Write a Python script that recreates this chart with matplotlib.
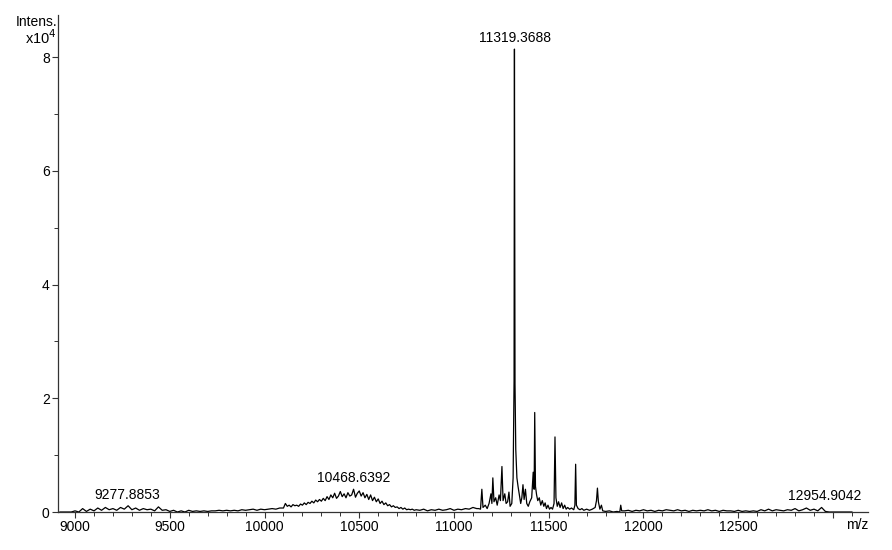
import numpy as np
import matplotlib
matplotlib.use('Agg')
from matplotlib import pyplot as plt
from matplotlib.ticker import MultipleLocator, FuncFormatter

plt.rcParams['font.family'] = ['Liberation Sans', 'DejaVu Sans']

# intensities in units of 1e4
# baseline before the hump, m/z 8920..10080 step 20
lowStart, lowStep = 8920, 20
lowInt = [0.0, 0.0, 0.0, 0.0,
          0.02, 0.0, 0.06, 0.01, 0.05, 0.02, 0.07, 0.03, 0.08, 0.04,
          0.06, 0.03, 0.08, 0.05, 0.11, 0.04, 0.07, 0.03, 0.06, 0.04,
          0.05, 0.02, 0.09, 0.03, 0.04, 0.01, 0.03, 0.0, 0.02, 0.0,
          0.03, 0.01, 0.02, 0.01, 0.02, 0.01, 0.02, 0.02, 0.03, 0.02,
          0.03, 0.02, 0.03, 0.02, 0.04, 0.03, 0.04, 0.05, 0.03, 0.05,
          0.04, 0.05, 0.06, 0.05, 0.07]

# broad hump, m/z 10100..10790 step 10
humpStart, humpStep = 10100, 10
humpInt = [0.07, 0.15, 0.10, 0.12, 0.09, 0.13, 0.11, 0.12, 0.10, 0.14,
           0.12, 0.16, 0.13, 0.17, 0.15, 0.19, 0.16, 0.21, 0.18, 0.22,
           0.19, 0.24, 0.20, 0.27, 0.22, 0.30, 0.25, 0.33, 0.24, 0.28,
           0.36, 0.27, 0.32, 0.25, 0.34, 0.28, 0.30, 0.40, 0.26, 0.33,
           0.37, 0.28, 0.34, 0.25, 0.31, 0.22, 0.30, 0.20, 0.26, 0.18,
           0.23, 0.15, 0.19, 0.13, 0.16, 0.11, 0.13, 0.09, 0.11, 0.08,
           0.09, 0.06, 0.08, 0.05, 0.07, 0.04, 0.05, 0.04, 0.05, 0.03]

# gap between hump and peak cluster, m/z 10800..11120 step 20
gapStart, gapStep = 10800, 20
gapInt = [0.04, 0.03, 0.05, 0.02, 0.04, 0.03, 0.05, 0.03, 0.04, 0.06,
          0.03, 0.05, 0.04, 0.06, 0.05, 0.08, 0.06]

# peak cluster, explicit m/z points
peakMz = [11130, 11140, 11147, 11153, 11165, 11175, 11185, 11195, 11200, 11205,
          11211, 11220, 11228, 11238, 11245, 11253, 11259, 11268, 11275, 11283,
          11290, 11296, 11305, 11312, 11317, 11319, 11322, 11326, 11332, 11338,
          11345, 11352, 11358, 11364, 11370, 11377, 11384, 11392, 11400, 11410,
          11418, 11423, 11426, 11430, 11436, 11442, 11450, 11458, 11466, 11474,
          11481, 11488, 11496, 11504, 11512, 11520, 11528, 11533, 11538, 11545,
          11552, 11560, 11568, 11576, 11584, 11592, 11600, 11610, 11620, 11632,
          11638, 11642, 11646, 11655, 11665, 11675, 11685, 11700, 11715, 11730,
          11745, 11752, 11757, 11762, 11770, 11778, 11785, 11800, 11820, 11840,
          11860, 11875, 11880, 11885]
peakInt = [0.06, 0.05, 0.40, 0.08, 0.12, 0.06, 0.15, 0.32, 0.15, 0.60,
           0.18, 0.25, 0.12, 0.30, 0.20, 0.80, 0.20, 0.32, 0.15, 0.18,
           0.35, 0.10, 0.15, 0.60, 2.30, 8.14, 2.25, 1.10, 0.60, 0.45,
           0.30, 0.15, 0.25, 0.48, 0.22, 0.40, 0.15, 0.10, 0.18, 0.25,
           0.70, 0.40, 1.75, 0.45, 0.30, 0.20, 0.25, 0.12, 0.20, 0.10,
           0.16, 0.06, 0.12, 0.05, 0.08, 0.05, 0.15, 1.32, 0.25, 0.10,
           0.18, 0.08, 0.16, 0.06, 0.12, 0.05, 0.08, 0.05, 0.07, 0.04,
           0.12, 0.84, 0.12, 0.06, 0.04, 0.06, 0.03, 0.05, 0.03, 0.05,
           0.08, 0.20, 0.42, 0.18, 0.05, 0.12, 0.02, 0.01, 0.02, 0.0,
           0.01, 0.0, 0.12, 0.02]

# high mass tail, m/z 11900..13100 step 20
tailStart, tailStep = 11900, 20
tailInt = [0.02, 0.03, 0.01, 0.03, 0.02, 0.04, 0.02, 0.03, 0.01, 0.03,
           0.02, 0.04, 0.03, 0.02, 0.04, 0.02, 0.03, 0.01, 0.03, 0.02,
           0.03, 0.02, 0.04, 0.02, 0.03, 0.01, 0.03, 0.02, 0.02, 0.01,
           0.03, 0.01, 0.02, 0.01, 0.02, 0.01, 0.04, 0.02, 0.05, 0.02,
           0.04, 0.03, 0.02, 0.04, 0.03, 0.06, 0.02, 0.04, 0.07, 0.03,
           0.05, 0.02, 0.08, 0.01, 0.0, 0.0, 0.0, 0.0, 0.0, 0.0,
           0.0]

peakLabels = [9277.8853, 10468.6392, 11319.3688, 12954.9042]
lastLabelledTick = 12500


def segment(start, step, values):
    return start + step * np.arange(len(values))


mz = np.concatenate([segment(lowStart, lowStep, lowInt),
                     segment(humpStart, humpStep, humpInt),
                     segment(gapStart, gapStep, gapInt),
                     np.array(peakMz, dtype=float),
                     segment(tailStart, tailStep, tailInt)])
inten = np.concatenate([lowInt, humpInt, gapInt, peakInt, tailInt])

fig = plt.figure(figsize=(8.92, 5.5), dpi=100)
ax = fig.add_axes([58 / 892, 38 / 550, 810 / 892, 497 / 550])

ax.plot(mz, inten, color='black', linewidth=0.9)

ax.set_xlim(8910, 13185)
ax.set_ylim(0, 8.74)

for side in ['top', 'right']:
    ax.spines[side].set_visible(False)
for side in ['left', 'bottom']:
    ax.spines[side].set_color('#333333')
    ax.spines[side].set_linewidth(0.9)

ax.xaxis.set_major_locator(MultipleLocator(500))
ax.xaxis.set_minor_locator(MultipleLocator(100))
# the software leaves the last tick blank to make room for "m/z"
ax.xaxis.set_major_formatter(
    FuncFormatter(lambda v, p: f'{v:.0f}' if v <= lastLabelledTick else ''))
ax.yaxis.set_major_locator(MultipleLocator(2))
ax.yaxis.set_minor_locator(MultipleLocator(1))
ax.tick_params(which='major', direction='out', length=4, width=0.8,
               labelsize=10, color='#333333', pad=2)
ax.tick_params(which='minor', direction='out', length=3, width=0.7,
               color='#333333')

for label in peakLabels:
    near = np.abs(mz - label) < 15
    top = inten[near].max()
    ax.annotate(f'{label:.4f}', xy=(label, top), xytext=(0, 3),
                textcoords='offset points', ha='center', va='bottom',
                fontsize=10)

fig.text(57 / 892, 1 - 22 / 550, 'Intens.', ha='right', va='center',
         fontsize=10)
fig.text(57 / 892, 1 - 38 / 550, 'x10$^4$', ha='right', va='center',
         fontsize=10.5)
fig.text(868 / 892, 1 - 525 / 550, 'm/z', ha='right', va='center',
         fontsize=10)

fig.savefig('out.png', dpi=100)
